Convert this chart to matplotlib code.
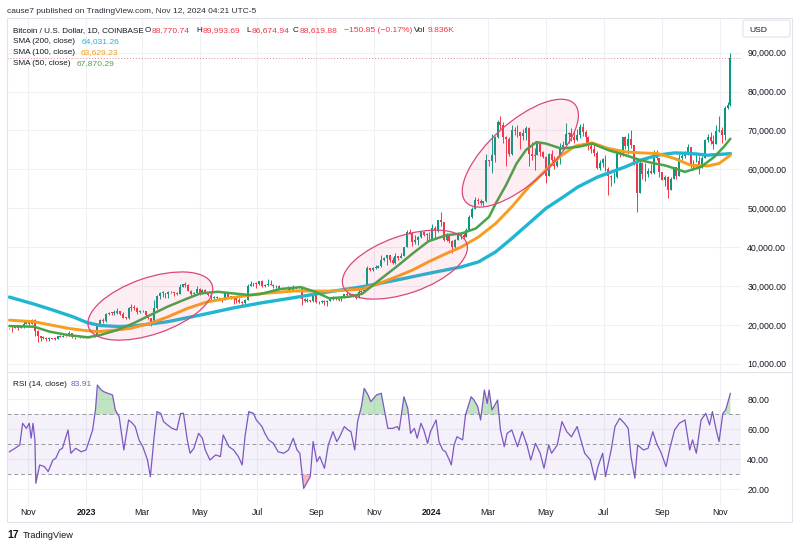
import numpy as np
import pandas as pd
import matplotlib
matplotlib.use("Agg")
import matplotlib.pyplot as plt
import matplotlib.dates as mdates
import matplotlib.transforms as mtransforms
from matplotlib.patches import Ellipse, FancyBboxPatch, Rectangle
from matplotlib.lines import Line2D

plt.rcParams["font.family"] = ["Liberation Sans", "DejaVu Sans"]

# ---------------------------------------------------------------- data
# 3-day candles, dated by their closing day, first one closes 2022-10-12
candle_start = "2022-10-12"
first_open = 19060
closes = [
    19150, 19070, 19330, 19170, 19330, 20290, 20630,                              # Oct 22
    20160, 21300, 18540, 17040, 16620, 16700, 16280, 16600, 16460, 16440,         # Nov 22
    17090, 16970, 17220, 17100, 17800, 16780, 16900, 16780, 16840, 16630,         # Dec 22
    16620, 16850, 16940, 17440, 19930, 21180, 21070, 22710, 23060, 23030, 23140,  # Jan 23
    23430, 22760, 21800, 21780, 24330, 24630, 24450, 23180, 23490,                # Feb 23
    23470, 22430, 21710, 20630, 24200, 27400, 28170, 28300, 27990, 28350,         # Mar 23
    28470, 28170, 27920, 29650, 30390, 30320, 28820, 27820, 28300, 29330,         # Apr 23
    28070, 28850, 28430, 27620, 26800, 27030, 26890, 26850, 26480, 28070, 27220,  # May 23
    27250, 27230, 26480, 25940, 25580, 26340, 30090, 30550, 30690, 30480,         # Jun 23
    31160, 29910, 30170, 30390, 30300, 29860, 29910, 29180, 29230, 29280,         # Jul 23
    29700, 29040, 29770, 29420, 29410, 26660, 26180, 26430, 26020, 27720,         # Aug 23
    25860, 25820, 26230, 25840, 26230, 26570, 27210, 26580, 26300, 27020,         # Sep 23
    27980, 27790, 27950, 27390, 26860, 28520, 28710, 29990, 34500, 34090, 34650,  # Oct 23
    34730, 35050, 36690, 37070, 37880, 36590, 35800, 37720, 37240, 37720,         # Nov 23
    39970, 43770, 43720, 41240, 41930, 42660, 43860, 43000, 43440, 42150,         # Dec 23
    45000, 44180, 46970, 46340, 41730, 42740, 41620, 39900, 41820, 43300,         # Jan 24
    43080, 42590, 44330, 47770, 49700, 52140, 51800, 51300, 51730, 62500,         # Feb 24
    62030, 63790, 68300, 72100, 71400, 68390, 67850, 64000, 70000, 69900,         # Mar 24
    69600, 68500, 69360, 70630, 63900, 63400, 63800, 66800, 64500, 63100,         # Apr 24
    58300, 63900, 62300, 60800, 62900, 65200, 66300, 69100, 69300, 68400, 67500,  # May 24
    68800, 70800, 69600, 68200, 66000, 65100, 64100, 60300, 61700, 62700,         # Jun 24
    60200, 58200, 57900, 57900, 64800, 63900, 68200, 65900, 67900, 66200,         # Jul 24
    61400, 54000, 61700, 58700, 58700, 59500, 59000, 64100, 62900, 59400,         # Aug 24
    57300, 58000, 54800, 57600, 60600, 58200, 62900, 63300, 64100, 65800,         # Sep 24
    60800, 62100, 62200, 60300, 62900, 67600, 68400, 67400, 66600, 69900, 70200,  # Oct 24
    68800, 75900, 76600, 88620,                                                   # Nov 24
]
highs = [
    19220, 19950, 19700, 19350, 19600, 20870, 21050,
    20800, 21450, 21470, 18600, 17200, 17000, 16800, 16750, 16700, 16900,
    17200, 17400, 17300, 17250, 18350, 17850, 16950, 16900, 16900, 16850,
    16780, 16950, 16990, 17490, 19980, 21400, 21650, 23000, 23180, 23250, 23900,
    24200, 23450, 23300, 22000, 24500, 25250, 25100, 24600, 23900,
    23800, 23500, 22600, 21800, 26500, 27750, 28500, 28800, 28300, 28650,
    28800, 28500, 28500, 30400, 30500, 30900, 30400, 28900, 28400, 30000,
    29500, 29300, 29300, 28300, 27800, 27300, 27500, 27200, 26900, 28100, 28400,
    27400, 27400, 27150, 26800, 26100, 26700, 30400, 31400, 30750, 31000,
    31380, 31450, 30500, 31800, 31600, 30400, 30200, 30200, 29600, 29600,
    29950, 29300, 30150, 30000, 29600, 29300, 26800, 26800, 26500, 28100,
    27500, 26100, 26300, 26500, 26500, 26800, 27450, 27150, 26600, 27300,
    28050, 28600, 28100, 28000, 27500, 30000, 28900, 30200, 35200, 34500, 34800,
    35300, 35300, 37900, 37500, 38000, 37700, 37500, 38400, 37600, 38400,
    40000, 44400, 44700, 43400, 43100, 42800, 44200, 44200, 43700, 43900,
    45900, 45500, 47000, 48900, 43200, 43600, 42800, 41800, 42200, 43800,
    43800, 43500, 44900, 48200, 50300, 52800, 52600, 52300, 51900, 64000,
    62500, 69000, 68500, 72800, 73800, 72300, 68500, 68200, 71500, 71000,
    71300, 69300, 70300, 71200, 71000, 66900, 65400, 67200, 67000, 64700,
    63300, 64300, 65000, 63500, 63400, 66700, 67200, 71900, 69500, 70600, 69500,
    70300, 71700, 71900, 70000, 68500, 66900, 66500, 64600, 62400, 62900,
    63800, 60500, 58500, 59400, 64900, 65100, 68400, 68500, 69400, 70000,
    66300, 61800, 62700, 61800, 61500, 60300, 61400, 64900, 65000, 61200,
    59400, 58500, 58300, 58000, 60700, 60700, 63900, 64100, 64800, 66500,
    64800, 62500, 64400, 63400, 63400, 67900, 69000, 69500, 68800, 71500, 73600,
    70900, 76200, 77200, 89990,
]
lows = [
    18900, 18200, 19080, 18650, 19150, 19250, 20250,
    20050, 20150, 17200, 15700, 15900, 16400, 15900, 15800, 16250, 16000,
    16800, 16900, 16750, 16900, 17080, 16600, 16400, 16750, 16600, 16500,
    16500, 16600, 16800, 16900, 17300, 20400, 20450, 20850, 22400, 22500, 22550,
    22850, 22650, 21700, 21500, 21600, 23600, 23800, 22800, 23000,
    23200, 22200, 21600, 19600, 20500, 24100, 26650, 27200, 27000, 26900,
    28100, 27300, 27650, 27900, 29800, 29800, 28700, 27150, 27300, 28200,
    27700, 28000, 28200, 27400, 26100, 26600, 26550, 26300, 25900, 26400, 26800,
    26600, 25400, 25700, 25650, 24800, 25200, 26300, 29950, 29950, 29600,
    30300, 29850, 29700, 29950, 30200, 29500, 29600, 29000, 29100, 29150,
    28600, 28800, 28900, 29300, 29300, 25200, 25800, 25850, 25800, 25900,
    25700, 25400, 25600, 25150, 24900, 26150, 26400, 26400, 26000, 26100,
    26950, 27250, 27200, 27150, 26550, 26900, 27900, 28600, 29800, 33800, 33900,
    34300, 34600, 34900, 36400, 35500, 36200, 35650, 35700, 36800, 37100,
    37700, 39900, 43300, 40200, 40800, 40600, 42300, 42800, 41500, 41600,
    42000, 42200, 43800, 45300, 41500, 41600, 41000, 38600, 39800, 41800,
    42000, 42200, 42500, 44400, 47600, 49800, 51000, 50700, 50500, 51700,
    60900, 59000, 62000, 68000, 70500, 66800, 60800, 63300, 63600, 68900,
    68300, 65100, 67500, 67500, 60900, 62300, 59700, 63600, 63500, 62800,
    56500, 58300, 61800, 60200, 60700, 61300, 65000, 66300, 66700, 67300, 66700,
    67400, 68000, 68500, 66100, 65000, 64100, 63400, 60100, 59900, 60500,
    59500, 53500, 55700, 56600, 57800, 63200, 63300, 65100, 64000, 65500,
    61200, 49000, 54000, 57600, 57000, 57900, 58800, 58900, 62500, 57900,
    57200, 55600, 52600, 54600, 57500, 57500, 58200, 62400, 62800, 63800,
    60300, 59800, 61800, 58900, 60300, 62900, 66900, 66600, 65200, 66500, 69700,
    66800, 67500, 75400, 76200,
]

sma200_dates = ["2022-10-12", "2022-11-07", "2022-11-27", "2022-12-18", "2023-01-02",
                "2023-01-16", "2023-02-05", "2023-02-20", "2023-03-28", "2023-05-02",
                "2023-06-05", "2023-07-04", "2023-08-09", "2023-09-15", "2023-10-20",
                "2023-11-25", "2023-12-29", "2024-02-02", "2024-02-20", "2024-03-09",
                "2024-03-26", "2024-04-13", "2024-05-01", "2024-05-17", "2024-06-04",
                "2024-06-25", "2024-07-24", "2024-08-09", "2024-08-27", "2024-09-14",
                "2024-10-01", "2024-10-19", "2024-11-12"]
sma200_vals = [27140, 25340, 23800, 22080, 20590, 19820, 19560, 19690, 20790, 22520,
               24310, 25600, 27000, 28500, 29790, 31510, 33230, 34920, 36210, 38780,
               42230, 46080, 49940, 52500, 55490, 58060, 60630, 62350, 63640, 64230,
               64070, 63640, 64031]

sma100_dates = ["2022-10-12", "2022-11-07", "2022-12-13", "2023-01-01", "2023-01-14",
                "2023-02-03", "2023-02-17", "2023-03-10", "2023-03-28", "2023-04-18",
                "2023-05-09", "2023-06-02", "2023-07-04", "2023-08-09", "2023-09-15",
                "2023-10-20", "2023-11-07", "2023-11-25", "2023-12-12", "2023-12-29",
                "2024-01-17", "2024-02-02", "2024-02-20", "2024-03-09", "2024-03-26",
                "2024-04-13", "2024-05-01", "2024-05-17", "2024-06-01", "2024-06-19",
                "2024-07-06", "2024-07-24", "2024-08-09", "2024-08-27", "2024-09-14",
                "2024-10-01", "2024-10-19", "2024-10-31", "2024-11-12"]
sma100_vals = [21200, 20800, 19100, 18500, 18250, 18700, 19100, 20400, 22000, 24200,
               25900, 26900, 28000, 28700, 28680, 29200, 30660, 32370, 34080, 36210,
               38370, 40070, 42640, 46080, 50350, 55490, 59780, 63500, 66000, 66800,
               65360, 64490, 64230, 64070, 62780, 61060, 60880, 61500, 63629]

sma50_dates = ["2022-10-12", "2022-11-07", "2022-11-24", "2022-12-13", "2023-01-03",
               "2023-01-16", "2023-02-03", "2023-02-20", "2023-03-10", "2023-03-28",
               "2023-04-14", "2023-05-02", "2023-05-20", "2023-06-05", "2023-06-23",
               "2023-07-04", "2023-07-25", "2023-08-16", "2023-08-31", "2023-09-15",
               "2023-10-06", "2023-10-20", "2023-11-07", "2023-11-25", "2023-12-13",
               "2023-12-29", "2024-01-17", "2024-02-02", "2024-02-17", "2024-03-02",
               "2024-03-09", "2024-03-20", "2024-03-31", "2024-04-10", "2024-04-21",
               "2024-05-01", "2024-05-17", "2024-06-04", "2024-06-19", "2024-07-06",
               "2024-07-24", "2024-08-09", "2024-08-24", "2024-09-04", "2024-09-14",
               "2024-09-25", "2024-10-12", "2024-10-26", "2024-11-05", "2024-11-12"]
sma50_vals = [19690, 19510, 18220, 17370, 16780, 17370, 18660, 20380, 22520, 24650,
              26370, 28090, 28500, 28090, 27660, 27900, 29200, 29700, 28500, 26810,
              27220, 28000, 31510, 34920, 38500, 41500, 43070, 43500, 44800, 47780,
              51220, 56000, 61500, 65000, 67000, 66630, 65350, 65770, 66630, 64930,
              63640, 62350, 61500, 61000, 60220, 59350, 60630, 63200, 65770, 67870]

rsi_dates = [
    "2022-10-12", "2022-10-18", "2022-10-23", "2022-10-26", "2022-10-30", "2022-11-02", "2022-11-04",
    "2022-11-06", "2022-11-08", "2022-11-09", "2022-11-13", "2022-11-18", "2022-11-22", "2022-11-27",
    "2022-11-30", "2022-12-04", "2022-12-07", "2022-12-13", "2022-12-16", "2022-12-21", "2022-12-27",
    "2023-01-01", "2023-01-04", "2023-01-08", "2023-01-11", "2023-01-13", "2023-01-17", "2023-01-20",
    "2023-01-24", "2023-01-29", "2023-02-01", "2023-02-05", "2023-02-08", "2023-02-10", "2023-02-15",
    "2023-02-19", "2023-02-22", "2023-02-26", "2023-03-02", "2023-03-07", "2023-03-10", "2023-03-14",
    "2023-03-17", "2023-03-21", "2023-03-24", "2023-03-28", "2023-04-02", "2023-04-07", "2023-04-11",
    "2023-04-14", "2023-04-18", "2023-04-21", "2023-04-25", "2023-04-30", "2023-05-04", "2023-05-07",
    "2023-05-12", "2023-05-18", "2023-05-23", "2023-05-26", "2023-06-01", "2023-06-06", "2023-06-11",
    "2023-06-15", "2023-06-18", "2023-06-22", "2023-06-27", "2023-06-30", "2023-07-06", "2023-07-09",
    "2023-07-13", "2023-07-18", "2023-07-23", "2023-07-29", "2023-08-03", "2023-08-08", "2023-08-12",
    "2023-08-15", "2023-08-19", "2023-08-22", "2023-08-26", "2023-08-29", "2023-09-02", "2023-09-05",
    "2023-09-10", "2023-09-14", "2023-09-19", "2023-09-23", "2023-09-26", "2023-10-01", "2023-10-05",
    "2023-10-08", "2023-10-12", "2023-10-15", "2023-10-19", "2023-10-22", "2023-10-26", "2023-10-29",
    "2023-11-04", "2023-11-09", "2023-11-12", "2023-11-16", "2023-11-21", "2023-11-26", "2023-11-28",
    "2023-12-03", "2023-12-07", "2023-12-10", "2023-12-14", "2023-12-17", "2023-12-21", "2023-12-24",
    "2023-12-28", "2023-12-31", "2024-01-06", "2024-01-09", "2024-01-13", "2024-01-16", "2024-01-20",
    "2024-01-22", "2024-01-25", "2024-01-28", "2024-02-03", "2024-02-06", "2024-02-12", "2024-02-15",
    "2024-02-19", "2024-02-22", "2024-02-26", "2024-02-29", "2024-03-02", "2024-03-05", "2024-03-11",
    "2024-03-14", "2024-03-18", "2024-03-21", "2024-03-26", "2024-04-01", "2024-04-06", "2024-04-11",
    "2024-04-15", "2024-04-20", "2024-04-25", "2024-04-29", "2024-05-04", "2024-05-07", "2024-05-13",
    "2024-05-18", "2024-05-23", "2024-05-28", "2024-06-03", "2024-06-06", "2024-06-11", "2024-06-17",
    "2024-06-22", "2024-06-25", "2024-06-30", "2024-07-03", "2024-07-09", "2024-07-13", "2024-07-18",
    "2024-07-23", "2024-07-27", "2024-07-30", "2024-08-03", "2024-08-06", "2024-08-12", "2024-08-17",
    "2024-08-22", "2024-08-26", "2024-08-31", "2024-09-05", "2024-09-09", "2024-09-14", "2024-09-19",
    "2024-09-25", "2024-09-30", "2024-10-03", "2024-10-07", "2024-10-12", "2024-10-17", "2024-10-21",
    "2024-10-24", "2024-10-28", "2024-10-31", "2024-11-04", "2024-11-07", "2024-11-12",
]
rsi_vals = [
    45, 47.3, 49.5, 64, 60.6, 64, 54,
    64, 52.9, 24, 36.2, 35.1, 31.8, 39.5,
    40.6, 46.2, 47.3, 59.5, 44, 47.3, 45,
    46.2, 51.8, 59.5, 72.9, 89.5, 86.2, 85,
    84, 82.9, 72.9, 68.4, 55, 46.2, 66.2,
    64, 61.8, 52.9, 48.4, 39.5, 28.4, 55,
    71.8, 70.6, 65.1, 62.9, 60.6, 59.5, 70.6,
    70.6, 52.9, 44, 47.3, 57.3, 54, 46.2,
    39.5, 42.9, 41.8, 56.2, 48.4, 46.2, 41.8,
    36.2, 55, 71.8, 70.6, 66.2, 61.8, 57.3,
    52.9, 50.6, 45, 44, 46.2, 54, 46.2,
    44, 20.6, 24, 28.4, 51.8, 38.4, 41.8,
    34, 49.5, 58.4, 51.8, 55, 61.8, 59.5,
    58.4, 46.2, 65.1, 75.1, 87.3, 82.9, 78.4,
    82.9, 84, 74, 60.6, 60.6, 61.8, 59.5,
    81.7, 74, 57.3, 60.6, 54, 64, 59.5,
    50.6, 58.4, 66.2, 51.8, 46.2, 45, 39.5,
    36.2, 49.5, 55, 52.9, 69.5, 81.7, 79.5,
    75.1, 66.2, 86.2, 77.3, 86.2, 72.9, 79.5,
    59.5, 48.4, 57.3, 59.5, 48.4, 58.4, 49.5,
    39.5, 50.6, 44, 34, 49.5, 44, 49.5,
    65.1, 58.4, 55, 61.8, 55, 44, 39.5,
    26.2, 35.1, 44, 28.4, 46.2, 61.8, 67.3,
    64, 60.6, 41.8, 27.3, 49.5, 46.2, 47.3,
    58.4, 50.6, 44, 35.1, 47.3, 59.5, 64,
    66.2, 46.2, 52.9, 44, 66.2, 70.6, 62.9,
    71.8, 59.5, 51.8, 70.6, 72.9, 83.91,
]

time_tick_dates = ["2022-11-01", "2023-01-01", "2023-03-01", "2023-05-01", "2023-07-01",
                   "2023-09-01", "2023-11-01", "2024-01-01", "2024-03-01", "2024-05-01",
                   "2024-07-01", "2024-09-01", "2024-11-01"]
time_tick_labels = ["Nov", "2023", "Mar", "May", "Jul", "Sep", "Nov",
                    "2024", "Mar", "May", "Jul", "Sep", "Nov"]
price_ticks = [10000, 20000, 30000, 40000, 50000, 60000, 70000, 80000, 90000]
rsi_ticks = [20, 40, 60, 80]

# highlighted zones (date, price of centre)
zone_centers = [("2023-03-10", 24830), ("2023-12-04", 35490), ("2024-04-04", 64150)]

# ---------------------------------------------------------------- style
UP, DOWN = "#089981", "#f23645"
C200, C100, C50 = "#1fb6d2", "#f89d1c", "#47a447"
RSI_C = "#7e57c2"
TXT = "#131722"
GRID = "#eef0f4"

W, H = 800, 545
fig = plt.figure(figsize=(W / 100, H / 100), dpi=100)
fig.patch.set_facecolor("white")


def fx(px):
    return px / W


def fy(py):
    return 1 - py / H


L, R = 7, 741
ax = fig.add_axes([fx(L), fy(372), fx(R) - fx(L), fy(18) - fy(372)])
axr = fig.add_axes([fx(L), fy(505), fx(R) - fx(L), fy(372) - fy(505)], sharex=ax)

d0 = mdates.date2num(pd.Timestamp("2023-01-01"))
ax.set_xlim(d0 - 83.5, d0 + 692.2)
ax.set_ylim(7865, 98925)
axr.set_ylim(9.5, 98.2)

for a in (ax, axr):
    for s in a.spines.values():
        s.set_visible(False)
    a.set_facecolor("white")
    a.grid(True, color=GRID, lw=0.8, zorder=0)
    a.set_axisbelow(True)

tick_x = mdates.date2num(pd.to_datetime(time_tick_dates))
ax.set_xticks(tick_x)
ax.tick_params(axis="x", length=0, labelbottom=False)
axr.set_xticks(tick_x)
axr.set_xticklabels(time_tick_labels)
axr.tick_params(axis="x", length=0, pad=2.5, labelsize=6.3, labelcolor=TXT)
for lab in axr.get_xticklabels():
    if lab.get_text().isdigit():
        lab.set_fontweight("bold")

ax.yaxis.tick_right()
ax.set_yticks(price_ticks)
ax.set_yticklabels([f"{v:,.2f}" for v in price_ticks])
ax.tick_params(axis="y", length=0, pad=4.5, labelsize=6.3, labelcolor=TXT)
axr.yaxis.tick_right()
axr.set_yticks(rsi_ticks)
axr.set_yticklabels([f"{v:.2f}" for v in rsi_ticks])
axr.tick_params(axis="y", length=0, pad=4.5, labelsize=6.3, labelcolor=TXT)

# ---------------------------------------------------------------- candles
cdates = pd.date_range(candle_start, periods=len(closes), freq="3D")
cx = mdates.date2num(cdates)
c = np.array(closes, float)
o = np.concatenate([[first_open], c[:-1]])
h = np.maximum(np.array(highs, float), np.maximum(o, c))
lo = np.minimum(np.array(lows, float), np.minimum(o, c))
up = c >= o
cols = np.where(up, UP, DOWN)
ax.vlines(cx, lo, h, colors=cols, lw=0.7, zorder=2)
body = np.maximum(np.abs(c - o), 150)
ax.bar(cx, body, bottom=np.minimum(o, c), width=2.1, color=cols, lw=0, zorder=2)

# ---------------------------------------------------------------- moving averages
for dts, vals, col, lw in ((sma200_dates, sma200_vals, C200, 2.4),
                           (sma100_dates, sma100_vals, C100, 2.1),
                           (sma50_dates, sma50_vals, C50, 1.8)):
    ax.plot(mdates.date2num(pd.to_datetime(dts)), vals, color=col, lw=lw,
            solid_capstyle="round", solid_joinstyle="round", zorder=4)

# last price line
ax.axhline(closes[-1], color="#d98a92", lw=0.7, ls=(0, (1, 2)), zorder=3)

# ---------------------------------------------------------------- drawn ellipses
ell_shapes = [(130.6, 56.4, 19), (130.8, 57.4, 19), (146.4, 60.8, 42)]
for (dt, pr), (ew, eh, ang) in zip(zone_centers, ell_shapes):
    tr = mtransforms.IdentityTransform() + mtransforms.ScaledTranslation(
        mdates.date2num(pd.Timestamp(dt)), pr, ax.transData)
    ax.add_patch(Ellipse((0, 0), ew, eh, angle=ang, transform=tr,
                         facecolor=(0.93, 0.35, 0.55, 0.10), edgecolor="#d9487a",
                         lw=0.9, zorder=5))

# ---------------------------------------------------------------- RSI
rx = mdates.date2num(pd.to_datetime(rsi_dates))
rv = np.array(rsi_vals, float)
axr.axhspan(30, 70, color=RSI_C, alpha=0.08, lw=0, zorder=1)
axr.fill_between(rx, 70, rv, where=rv > 70, interpolate=True, color="#4caf50",
                 alpha=0.35, lw=0, zorder=2)
axr.fill_between(rx, 30, rv, where=rv < 30, interpolate=True, color="#f23645",
                 alpha=0.35, lw=0, zorder=2)
for lvl in (70, 50, 30):
    axr.axhline(lvl, color="#9598a1", lw=0.7, ls=(0, (4, 3)), zorder=2)
axr.plot(rx, rv, color=RSI_C, lw=0.9, zorder=3)

# ---------------------------------------------------------------- frame & texts
fig.add_artist(Rectangle((fx(7), fy(522)), fx(792) - fx(7), fy(18) - fy(522),
                         transform=fig.transFigure, fill=False, ec="#e0e3eb", lw=0.8))
fig.add_artist(Line2D([fx(7), fx(792)], [fy(372), fy(372)], transform=fig.transFigure,
                      color="#e0e3eb", lw=0.8))
fig.add_artist(FancyBboxPatch((743, H - 37), 47, 17, boxstyle="round,pad=0,rounding_size=2",
                              transform=mtransforms.IdentityTransform(),
                              fc="white", ec="#e0e3eb", lw=0.8))


def ftxt(x, y, s, color=TXT, size=6.1, **kw):
    # y is the vertical centre of capital letters; place text on a common baseline
    fig.text(fx(x), fy(y + 3), s, color=color, fontsize=size, va="baseline", ha="left", **kw)


LBL = 5.85
ftxt(749, 29, "USD")
ftxt(7, 10, "cause7 published on TradingView.com, Nov 12, 2024 04:21 UTC-5",
     color="#2a2e39", size=6.0)
ftxt(13, 29, "Bitcoin / U.S. Dollar, 1D, COINBASE", size=LBL)
ftxt(145, 29, "O", size=LBL)
ftxt(152, 29, "88,770.74", color=DOWN)
ftxt(196, 29, "H", size=LBL)
ftxt(202.5, 29, "89,993.69", color=DOWN)
ftxt(246.5, 29, "L", size=LBL)
ftxt(251.5, 29, "86,674.94", color=DOWN)
ftxt(293, 29, "C", size=LBL)
ftxt(299.5, 29, "88,619.88", color=DOWN)
ftxt(344, 29, "\u2212150.85 (\u22120.17%)", color=DOWN)
ftxt(414, 29, "Vol", size=LBL)
ftxt(427.5, 29, "9.836K", color=DOWN)
ftxt(13, 40, "SMA (200, close)", size=LBL)
ftxt(82, 40, "64,031.26", color=C200)
ftxt(13, 51, "SMA (100, close)", size=LBL)
ftxt(81, 51, "63,629.23", color=C100)
ftxt(13, 62, "SMA (50, close)", size=LBL)
ftxt(77, 62, "67,870.29", color=C50)
ftxt(13, 383, "RSI (14, close)", size=LBL)
ftxt(71, 383, "83.91", color=RSI_C)
ftxt(7, 535, "17", size=7.5, fontweight="bold")
ftxt(23, 535, "TradingView", size=6.6)

fig.savefig("out.png", dpi=100, facecolor="white")
